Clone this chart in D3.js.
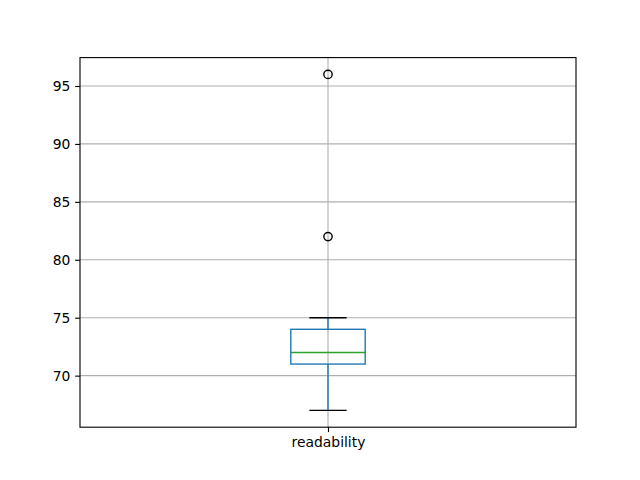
<!DOCTYPE html>
<html><head><meta charset="utf-8">
<script src="https://cdn.jsdelivr.net/npm/d3@7"></script>
<style>body{margin:0;background:#fff}svg{display:block}</style>
</head><body>
<script>
const categories = ["readability"];
const lowerWhisker = [67];
const q1 = [71];
const median = [72];
const q3 = [74];
const upperWhisker = [75];
const outliers = [[82, 96]];
const yTicks = [70, 75, 80, 85, 90, 95];

const W = 640, H = 480;
const L = 80, R = 576, T = 57.6, B = 427.2;
const pt = 100 / 72;
const svg = d3.select("body").append("svg").attr("width", W).attr("height", H);

const x = d3.scaleLinear().domain([0.5, 1.5]).range([L, R]);
const y = d3.scaleLinear().domain([65.55, 97.45]).range([B, T]);
const font = "DejaVu Sans, sans-serif";
const fs = 10 * pt;

// grid
const g = svg.append("g");
g.selectAll("line.h").data(yTicks).join("line")
  .attr("x1", L).attr("x2", R).attr("y1", d => y(d)).attr("y2", d => y(d))
  .attr("stroke", "#b0b0b0").attr("stroke-width", 0.8 * pt);
g.selectAll("line.v").data(categories).join("line")
  .attr("x1", (d, i) => x(i + 1)).attr("x2", (d, i) => x(i + 1)).attr("y1", T).attr("y2", B)
  .attr("stroke", "#b0b0b0").attr("stroke-width", 0.8 * pt);

const bw = 0.15;
const lw = 1 * pt;
categories.forEach((c, i) => {
  const cx = i + 1;
  const gb = svg.append("g");
  gb.append("line").attr("x1", x(cx)).attr("x2", x(cx)).attr("y1", y(q1[i])).attr("y2", y(lowerWhisker[i]))
    .attr("stroke", "#1f77b4").attr("stroke-width", lw);
  gb.append("line").attr("x1", x(cx)).attr("x2", x(cx)).attr("y1", y(q3[i])).attr("y2", y(upperWhisker[i]))
    .attr("stroke", "#1f77b4").attr("stroke-width", lw);
  [lowerWhisker[i], upperWhisker[i]].forEach(v => {
    gb.append("line").attr("x1", x(cx - bw / 4)).attr("x2", x(cx + bw / 4)).attr("y1", y(v)).attr("y2", y(v))
      .attr("stroke", "#000").attr("stroke-width", lw);
  });
  gb.append("rect").attr("x", x(cx - bw / 2)).attr("width", x(cx + bw / 2) - x(cx - bw / 2))
    .attr("y", y(q3[i])).attr("height", y(q1[i]) - y(q3[i]))
    .attr("fill", "none").attr("stroke", "#1f77b4").attr("stroke-width", lw);
  gb.append("line").attr("x1", x(cx - bw / 2)).attr("x2", x(cx + bw / 2)).attr("y1", y(median[i])).attr("y2", y(median[i]))
    .attr("stroke", "#2ca02c").attr("stroke-width", lw);
  gb.selectAll("circle").data(outliers[i]).join("circle")
    .attr("cx", x(cx)).attr("cy", d => y(d)).attr("r", 3 * pt)
    .attr("fill", "none").attr("stroke", "#000").attr("stroke-width", lw);
});

const tl = 3.5 * pt, tp = 3.5 * pt;
const ax = svg.append("g").attr("transform", `translate(${L},0)`)
  .call(d3.axisLeft(y).tickValues(yTicks).tickSize(tl).tickPadding(tp).tickFormat(d3.format("d")));
ax.select(".domain").remove();
ax.selectAll("text").attr("font-family", font).attr("font-size", fs).attr("fill", "#000");
ax.selectAll("line").attr("stroke", "#000").attr("stroke-width", 0.8 * pt);

const bx = svg.append("g").attr("transform", `translate(0,${B})`)
  .call(d3.axisBottom(x).tickValues(categories.map((c, i) => i + 1)).tickSize(tl).tickPadding(tp).tickFormat((d, i) => categories[i]));
bx.select(".domain").remove();
bx.selectAll("text").attr("font-family", font).attr("font-size", fs).attr("fill", "#000");
bx.selectAll("line").attr("stroke", "#000").attr("stroke-width", 0.8 * pt);

svg.append("rect").attr("x", L).attr("y", T).attr("width", R - L).attr("height", B - T)
  .attr("fill", "none").attr("stroke", "#000").attr("stroke-width", 0.8 * pt);
</script>
</body></html>
